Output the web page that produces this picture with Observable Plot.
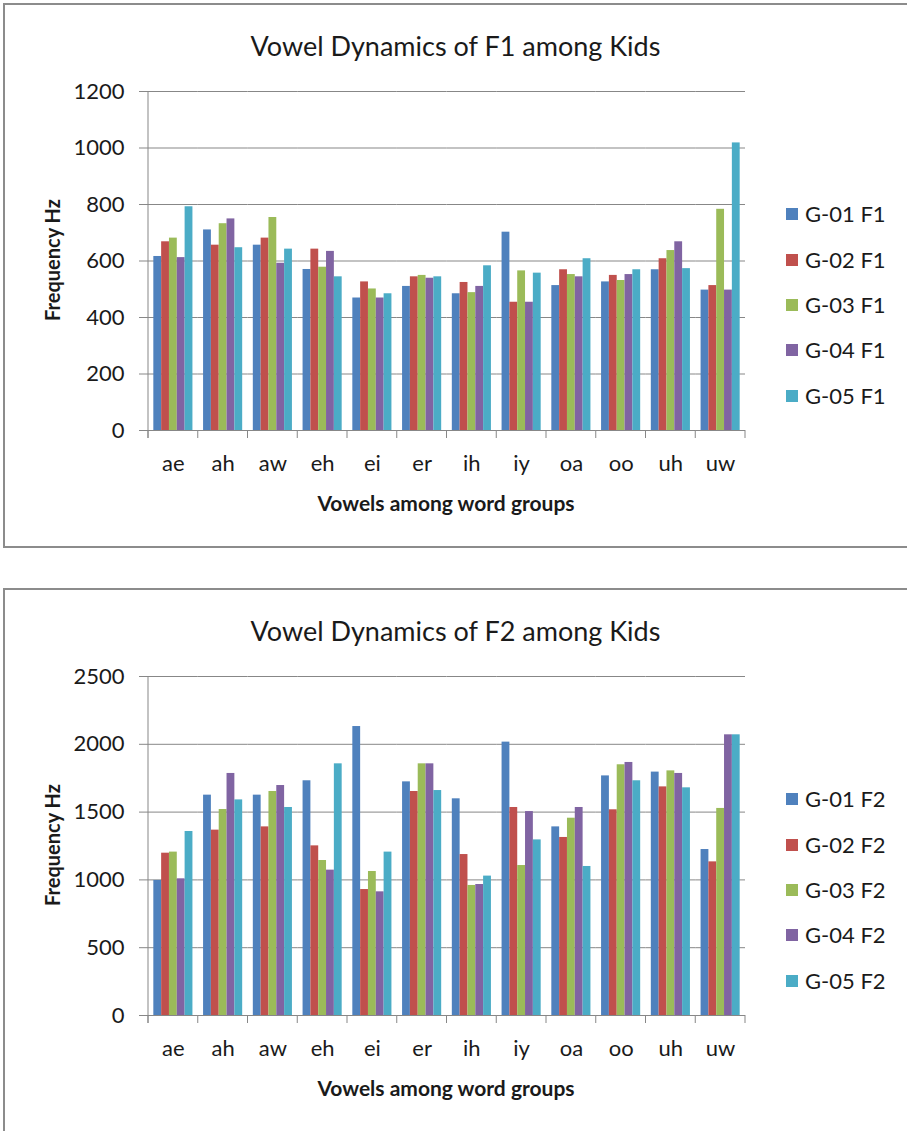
<!DOCTYPE html>
<html>
<head>
<meta charset="utf-8">
<script src="https://cdn.jsdelivr.net/npm/d3@7"></script>
<script src="https://cdn.jsdelivr.net/npm/@observablehq/plot@0.6"></script>
<style>
html, body { margin: 0; padding: 0; background: #fff; overflow: hidden; width: 907px; height: 1131px; }
body { position: relative; font-family: Lato, "Open Sans", sans-serif; color: #1a1a1a; }
.panel { position: absolute; left: 0; width: 907px; height: 547px; }
.box { position: absolute; left: 3px; top: 3px; width: 940px; height: 545px; border: 2px solid #8c8c8c; box-sizing: border-box; }
.panel svg { position: absolute; left: 0; top: 0; overflow: visible; }
.title { position: absolute; left: 0; width: 911px; text-align: center; font-size: 27px; line-height: 1; transform: translateY(-50%); white-space: nowrap; }
.xtitle { position: absolute; left: 0; width: 892px; text-align: center; font-size: 21px; font-weight: bold; line-height: 1; transform: translateY(-50%); white-space: nowrap; }
.ytitle { position: absolute; left: 52px; font-size: 20px; font-weight: bold; line-height: 1; white-space: nowrap; transform: translate(-50%, -50%) rotate(-90deg); }
.legend { position: absolute; left: 786px; }
.legend .row { position: absolute; left: 0; display: flex; align-items: center; transform: translateY(-50%); white-space: nowrap; font-size: 22px; line-height: 1; }
.legend .sw { width: 12px; height: 12px; margin-right: 7px; }
</style>
</head>
<body>
<div id="root"></div>
<script>
// ---------- data ----------
const vowels = ["ae", "ah", "aw", "eh", "ei", "er", "ih", "iy", "oa", "oo", "uh", "uw"];
const colors = ["#4F81BD", "#C0504D", "#9BBB59", "#8064A2", "#4BACC6"];

const seriesF1 = ["G-01 F1", "G-02 F1", "G-03 F1", "G-04 F1", "G-05 F1"];
const g01F1 = [616, 710, 656, 570, 469, 510, 484, 702, 513, 526, 569, 497];
const g02F1 = [668, 656, 681, 642, 526, 544, 524, 454, 569, 549, 608, 513];
const g03F1 = [681, 732, 754, 578, 501, 549, 488, 565, 552, 531, 637, 783];
const g04F1 = [612, 749, 592, 634, 469, 539, 510, 454, 544, 552, 668, 497];
const g05F1 = [792, 647, 642, 544, 484, 544, 583, 557, 608, 569, 573, 1018];
const ticksF1 = [0, 200, 400, 600, 800, 1000, 1200];

const seriesF2 = ["G-01 F2", "G-02 F2", "G-03 F2", "G-04 F2", "G-05 F2"];
const g01F2 = [996, 1625, 1625, 1731, 2131, 1723, 1598, 2016, 1391, 1767, 1795, 1224];
const g02F2 = [1197, 1367, 1391, 1251, 929, 1652, 1187, 1534, 1313, 1517, 1686, 1133];
const g03F2 = [1205, 1519, 1652, 1143, 1062, 1856, 959, 1106, 1455, 1849, 1804, 1527];
const g04F2 = [1008, 1785, 1696, 1072, 912, 1856, 966, 1504, 1534, 1866, 1785, 2070];
const g05F2 = [1357, 1590, 1534, 1856, 1205, 1659, 1028, 1295, 1099, 1731, 1679, 2070];
const ticksF2 = [0, 500, 1000, 1500, 2000, 2500];

const titles = ["Vowel Dynamics of F1 among Kids", "Vowel Dynamics of F2 among Kids"];
const xTitle = "Vowels among word groups";
const yTitle = "Frequency Hz";

// ---------- drawing ----------
const GRID = "#878787";

function makePanel(top, title, series, values, yTicks) {
  const panel = document.createElement("div");
  panel.className = "panel";
  panel.style.top = top + "px";
  document.getElementById("root").appendChild(panel);

  const box = document.createElement("div");
  box.className = "box";
  panel.appendChild(box);

  const rows = [];
  vowels.forEach((v, i) => series.forEach((s, j) => rows.push({vowel: v, series: s, value: values[j][i]})));

  const yMax = yTicks[yTicks.length - 1];
  const chart = Plot.plot({
    width: 907,
    height: 547,
    marginLeft: 148,
    marginRight: 162,
    marginTop: 91,
    marginBottom: 117,
    style: {fontFamily: "Lato, sans-serif", fontSize: "22px", color: "#1a1a1a", background: "transparent"},
    fx: {domain: vowels, padding: 0, round: false, label: null, axis: "bottom", tickSize: 0, tickPadding: 25},
    x: {domain: series, paddingInner: 0, paddingOuter: 0.68, round: false, axis: null},
    y: {domain: [0, yMax], ticks: yTicks, tickSize: 9, tickPadding: 15, tickFormat: "d", label: null},
    color: {domain: series, range: colors},
    marks: [
      Plot.ruleY(yTicks, {stroke: GRID, strokeWidth: 1}),
      Plot.barY(rows, {fx: "vowel", x: "series", y: "value", fill: "series"})
    ]
  });
  panel.appendChild(chart);

  // axis line and category boundary ticks, placed with Plot's own scales
  const svg = d3.select(chart);
  svg.selectAll("[aria-label='y-axis tick'] path").attr("stroke", GRID);
  const fx = chart.scale("fx");
  const y = chart.scale("y");
  const y0 = y.apply(0);
  const yTop = y.apply(yMax);
  const bounds = vowels.map(v => fx.apply(v));
  bounds.push(bounds[bounds.length - 1] + fx.bandwidth);
  const g = svg.append("g").attr("stroke", GRID).attr("stroke-width", 1);
  g.append("line").attr("x1", bounds[0]).attr("x2", bounds[0]).attr("y1", yTop).attr("y2", y0 + 8);
  bounds.forEach(b => g.append("line").attr("x1", b).attr("x2", b).attr("y1", y0).attr("y2", y0 + 8));

  // titles
  const t = document.createElement("div");
  t.className = "title"; t.style.top = "45px"; t.textContent = title;
  panel.appendChild(t);
  const xt = document.createElement("div");
  xt.className = "xtitle"; xt.style.top = "502px"; xt.textContent = xTitle;
  panel.appendChild(xt);
  const yt = document.createElement("div");
  yt.className = "ytitle"; yt.style.top = "260px"; yt.textContent = yTitle;
  panel.appendChild(yt);

  // legend
  const lg = document.createElement("div");
  lg.className = "legend"; lg.style.top = "0px";
  const rowY = [214, 259.5, 305, 350, 395.5];
  series.forEach((s, i) => {
    const r = document.createElement("div");
    r.className = "row"; r.style.top = rowY[i] + "px";
    const sw = document.createElement("span");
    sw.className = "sw"; sw.style.background = colors[i];
    const tx = document.createElement("span");
    tx.textContent = s;
    r.appendChild(sw); r.appendChild(tx);
    lg.appendChild(r);
  });
  panel.appendChild(lg);
}

makePanel(0, titles[0], seriesF1, [g01F1, g02F1, g03F1, g04F1, g05F1], ticksF1);
makePanel(585, titles[1], seriesF2, [g01F2, g02F2, g03F2, g04F2, g05F2], ticksF2);
</script>
</body>
</html>
